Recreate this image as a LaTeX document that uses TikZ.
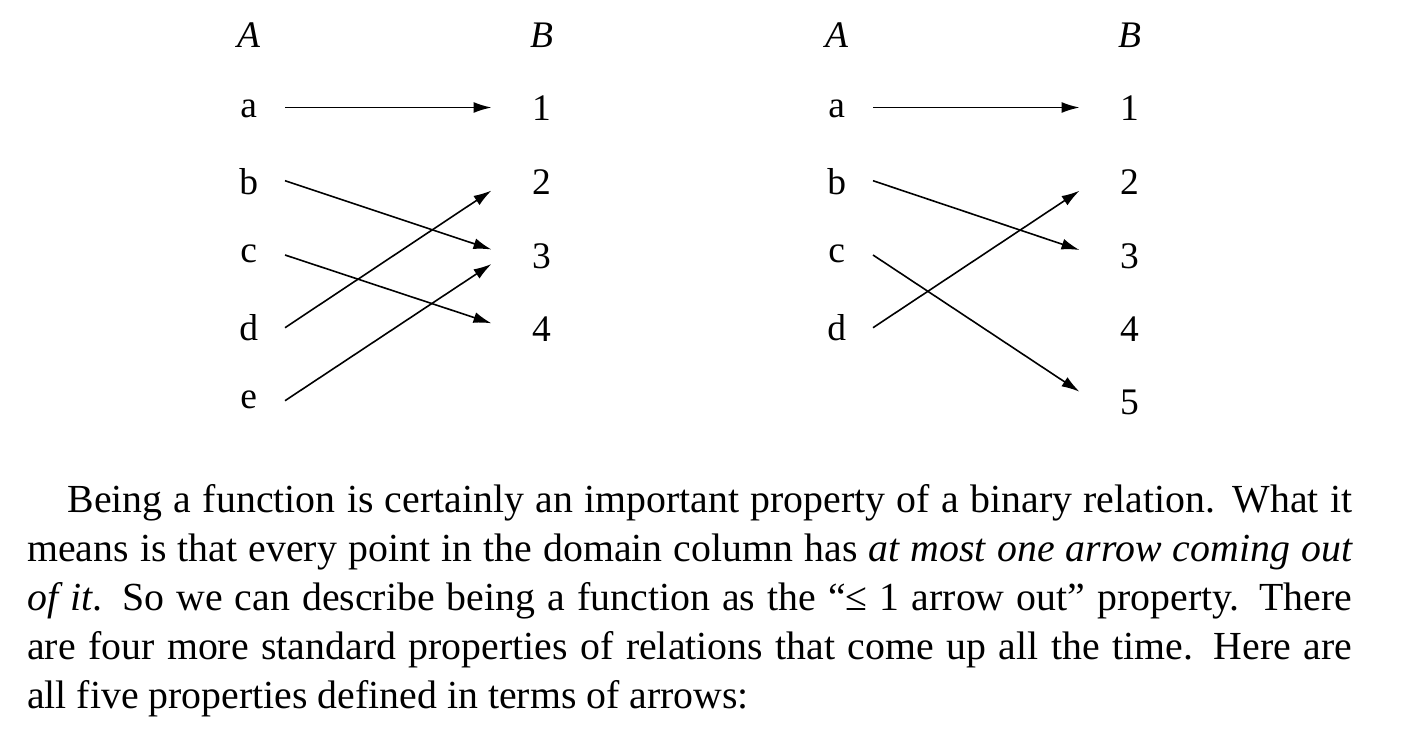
\documentclass[tikz,border=0pt]{standalone}
\usepackage{fontspec}
\setmainfont{Liberation Serif}
\usetikzlibrary{arrows.meta,calc}
\begin{document}
\begin{tikzpicture}[x=1pt,y=-1pt,
  lab/.style={anchor=base,inner sep=0pt,font=\fontsize{37.5}{44}\selectfont},
  arr/.style={line width=1.6pt,-{Latex[length=18pt,width=11pt]}},
  para/.style={anchor=north west,inner sep=0pt,text width=1325pt,align=justify,
    font=\fontsize{39.8}{49}\selectfont}]
\useasboundingbox (0,0) rectangle (1407,732);
% left diagram
\node[lab] (LA) at (248.7,47.5) {\textit{A}};
\node[lab] (LB) at (541.5,47.5) {\textit{B}};
\node[lab] (La) at (248.7,117) {a};
\node[lab] (Lb) at (248.7,194) {b};
\node[lab] (Lc) at (248.7,262) {c};
\node[lab] (Ld) at (248.7,340) {d};
\node[lab] (Le) at (248.7,408) {e};
\node[lab] (L1) at (541.5,120) {1};
\node[lab] (L2) at (541.5,194) {2};
\node[lab] (L3) at (541.5,268) {3};
\node[lab] (L4) at (541.5,341) {4};
\draw[arr] ($(La.base)+(36.3,-9.5)$) -- ($(L1.base)+(-50,-12.5)$);
\draw[arr] ($(Lb.base)+(36.3,-13.3)$) -- ($(L3.base)+(-50,-18.5)$);
\draw[arr] ($(Lc.base)+(36.3,-7)$) -- ($(L4.base)+(-50,-17.7)$);
\draw[arr] ($(Ld.base)+(36.3,-12.3)$) -- ($(L2.base)+(-50,-3.5)$);
\draw[arr] ($(Le.base)+(36.3,-7.3)$) -- ($(L3.base)+(-50,-4)$);
% right diagram
\node[lab] (RA) at (836.7,47.5) {\textit{A}};
\node[lab] (RB) at (1129.5,47.5) {\textit{B}};
\node[lab] (Ra) at (836.7,117) {a};
\node[lab] (Rb) at (836.7,194) {b};
\node[lab] (Rc) at (836.7,262) {c};
\node[lab] (Rd) at (836.7,340) {d};
\node[lab] (R1) at (1129.5,120) {1};
\node[lab] (R2) at (1129.5,194) {2};
\node[lab] (R3) at (1129.5,268) {3};
\node[lab] (R4) at (1129.5,341) {4};
\node[lab] (R5) at (1129.5,414) {5};
\draw[arr] ($(Ra.base)+(36.3,-9.5)$) -- ($(R1.base)+(-50,-12.5)$);
\draw[arr] ($(Rb.base)+(36.3,-13.3)$) -- ($(R3.base)+(-50,-18)$);
\draw[arr] ($(Rc.base)+(36.3,-7)$) -- ($(R5.base)+(-50,-22.3)$);
\draw[arr] ($(Rd.base)+(36.3,-12.3)$) -- ($(R2.base)+(-50,-3.3)$);
% paragraph
\node[para] (txt) at (27,478.4) {\hspace*{40.3pt}\strut Being a function is certainly an important property of a binary relation. What it\linebreak
means is that every point in the domain column has \textit{at most one arrow coming out\linebreak
of it}. So we can describe being a function as the ``≤ 1 arrow out'' property. There\linebreak
are four more standard properties of relations that come up all the time. Here are\linebreak
all five properties defined in terms of arrows:};
\end{tikzpicture}
\end{document}
